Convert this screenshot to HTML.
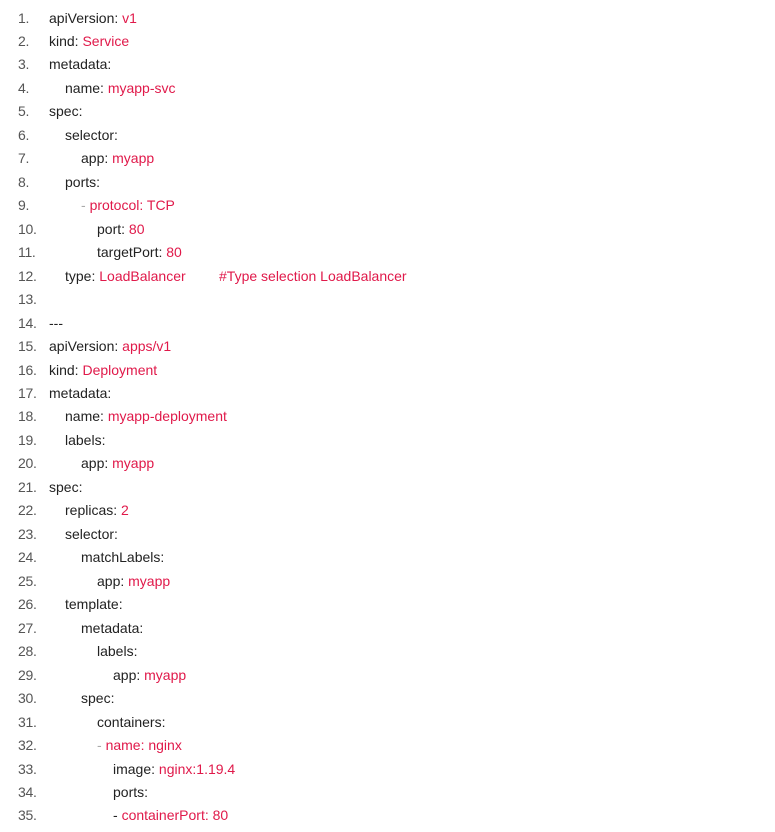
<!DOCTYPE html>
<html><head><meta charset="utf-8"><style>
body{margin:0;width:775px;height:832px;background:#fff;position:relative;font-family:"Liberation Sans",sans-serif;font-size:14px;color:#222;overflow:hidden}
.l{position:absolute;white-space:pre;line-height:16px}
.n{position:absolute;left:18px;color:#555;line-height:16px;font-size:14px;letter-spacing:-0.3px}
.r{color:#e0194a}.g{color:#aaa}
</style></head><body>
<div id="c"></div>
<script>
var L=[
[49,'apiVersion: <span class=r>v1</span>'],
[49,'kind: <span class=r>Service</span>'],
[49,'metadata:'],
[65,'name: <span class=r>myapp-svc</span>'],
[49,'spec:'],
[65,'selector:'],
[81,'app: <span class=r>myapp</span>'],
[65,'ports:'],
[81,'<span class=g>-</span> <span class=r>protocol: TCP</span>'],
[97,'port: <span class=r>80</span>'],
[97,'targetPort: <span class=r>80</span>'],
[65,'type: <span class=r>LoadBalancer</span>'],
[49,''],
[49,'---'],
[49,'apiVersion: <span class=r>apps/v1</span>'],
[49,'kind: <span class=r>Deployment</span>'],
[49,'metadata:'],
[65,'name: <span class=r>myapp-deployment</span>'],
[65,'labels:'],
[81,'app: <span class=r>myapp</span>'],
[49,'spec:'],
[65,'replicas: <span class=r>2</span>'],
[65,'selector:'],
[81,'matchLabels:'],
[97,'app: <span class=r>myapp</span>'],
[65,'template:'],
[81,'metadata:'],
[97,'labels:'],
[113,'app: <span class=r>myapp</span>'],
[81,'spec:'],
[97,'containers:'],
[97,'<span class=g>-</span> <span class=r>name: nginx</span>'],
[113,'image: <span class=r>nginx:1.19.4</span>'],
[113,'ports:'],
[113,'- <span class=r>containerPort: 80</span>']
];
var h='';
for(var i=0;i<L.length;i++){var y=9.5+i*23.47;
h+='<div class=n style="top:'+y+'px">'+(i+1)+'.</div><div class=l style="left:'+L[i][0]+'px;top:'+y+'px">'+L[i][1]+'</div>';}
h+='<div class="l r" style="left:219px;top:'+(9.5+11*23.47)+'px">#Type selection LoadBalancer</div>';
document.getElementById('c').innerHTML=h;
</script>
</body></html>
